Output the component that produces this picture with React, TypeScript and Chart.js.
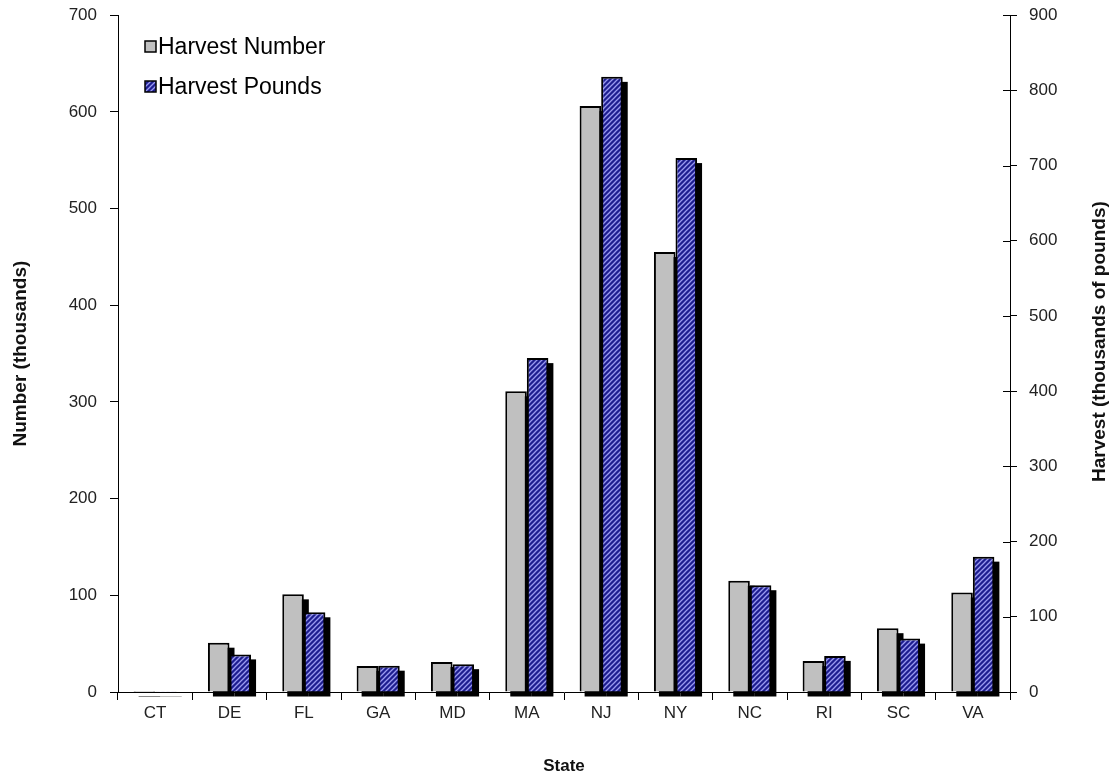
import React, { useEffect, useRef } from "react";
import { Chart, registerables } from "chart.js";

Chart.register(...registerables);

const states = ["CT", "DE", "FL", "GA", "MD", "MA", "NJ", "NY", "NC", "RI", "SC", "VA"];
const harvestNumber = [1, 51, 101, 27, 31, 311, 606, 455, 115, 32, 66, 103];
const harvestPounds = [1, 50, 106, 35, 37, 444, 818, 710, 142, 48, 71, 180];
const leftTicks = [0, 100, 200, 300, 400, 500, 600, 700];
const rightTicks = [0, 100, 200, 300, 400, 500, 600, 700, 800, 900];

const FONT = "'Liberation Sans', Arial, sans-serif";
const SHIFT = 8; // canvas is placed 8px above the page top

function makeHatch(): CanvasPattern | string {
  const c = document.createElement("canvas");
  c.width = 5;
  c.height = 5;
  const g = c.getContext("2d");
  if (!g) return "#22229a";
  g.fillStyle = "#1e1e90";
  g.fillRect(0, 0, 5, 5);
  g.strokeStyle = "#9a9af0";
  g.lineWidth = 1.3;
  g.beginPath();
  g.moveTo(-1, 6);
  g.lineTo(6, -1);
  g.moveTo(-1, 1);
  g.lineTo(1, -1);
  g.moveTo(4, 6);
  g.lineTo(6, 4);
  g.stroke();
  const p = g.createPattern(c, "repeat");
  return p || "#22229a";
}

const shadowPlugin = {
  id: "barShadow",
  beforeDatasetsDraw(chart: any) {
    const ctx = chart.ctx;
    ctx.save();
    ctx.fillStyle = "#000";
    chart.data.datasets.forEach((_: any, i: number) => {
      const meta = chart.getDatasetMeta(i);
      meta.data.forEach((el: any) => {
        const { x, y, base, width } = el.getProps(["x", "y", "base", "width"], true);
        const h = base - y;
        ctx.fillRect(x - width / 2 + 5, y + 5, width, h);
      });
    });
    ctx.restore();
  },
};

const decoPlugin = {
  id: "deco",
  afterDraw(chart: any) {
    const ctx = chart.ctx;
    const area = chart.chartArea;
    ctx.save();
    // inner halves of right-axis ticks
    const y1 = chart.scales.y1;
    ctx.strokeStyle = "#000";
    ctx.lineWidth = 1;
    y1.ticks.forEach((t: any) => {
      const py = Math.round(y1.getPixelForValue(t.value)) + 0.5;
      ctx.beginPath();
      ctx.moveTo(area.right - 7, py);
      ctx.lineTo(area.right, py);
      ctx.stroke();
    });
    // axis titles
    ctx.fillStyle = "#111";
    ctx.font = `bold 19px ${FONT}`;
    ctx.textAlign = "center";
    ctx.textBaseline = "middle";
    const cy = (area.top + area.bottom) / 2;
    ctx.save();
    ctx.translate(21, cy);
    ctx.rotate(-Math.PI / 2);
    ctx.fillText("Number (thousands)", 0, 0);
    ctx.restore();
    ctx.save();
    ctx.translate(1100, cy - 12);
    ctx.rotate(-Math.PI / 2);
    ctx.fillText("Harvest (thousands of pounds)", 0, 0);
    ctx.restore();
    ctx.font = `bold 17px ${FONT}`;
    ctx.fillText("State", (area.left + area.right) / 2, 766 + SHIFT);
    // legend
    const items = [
      { label: "Harvest Number", fill: chart.data.datasets[0].backgroundColor, y: 47 + SHIFT },
      { label: "Harvest Pounds", fill: chart.data.datasets[1].backgroundColor, y: 87 + SHIFT },
    ];
    ctx.font = `23px ${FONT}`;
    ctx.textAlign = "left";
    items.forEach((it) => {
      ctx.fillStyle = it.fill;
      ctx.fillRect(145, it.y - 6, 11, 11);
      ctx.strokeStyle = "#000";
      ctx.lineWidth = 1.5;
      ctx.strokeRect(145, it.y - 6, 11, 11);
      ctx.fillStyle = "#000";
      ctx.fillText(it.label, 158, it.y + 1);
    });
    ctx.restore();
  },
};

export default function App() {
  const ref = useRef<HTMLCanvasElement | null>(null);
  useEffect(() => {
    if (!ref.current) return;
    const hatch = makeHatch();
    const chart = new Chart(ref.current, {
      type: "bar",
      data: {
        labels: states,
        datasets: [
          {
            label: "Harvest Number",
            data: harvestNumber,
            backgroundColor: "#c0c0c0",
            borderColor: "#000",
            borderWidth: 2,
            yAxisID: "y",
            categoryPercentage: 0.58,
            barPercentage: 1,
          },
          {
            label: "Harvest Pounds",
            data: harvestPounds,
            backgroundColor: hatch as any,
            borderColor: "#000",
            borderWidth: 2,
            yAxisID: "y1",
            categoryPercentage: 0.58,
            barPercentage: 1,
          },
        ],
      },
      options: {
        animation: false,
        responsive: false,
        maintainAspectRatio: false,
        layout: { padding: { top: 7, left: 0, right: 0, bottom: 0 } },
        plugins: { legend: { display: false }, tooltip: { enabled: false } },
        scales: {
          x: {
            grid: { display: true, drawOnChartArea: false, drawTicks: true, tickLength: 8, color: "#000", offset: true },
            border: { display: true, color: "#000", width: 1 },
            ticks: { color: "#222", font: { family: FONT, size: 17 }, padding: 3 },
            afterFit: (s: any) => { s.height = 86; },
          },
          y: {
            position: "left",
            min: 0,
            max: 700,
            afterBuildTicks: (s: any) => { s.ticks = leftTicks.map((v) => ({ value: v })); },
            grid: { display: true, drawOnChartArea: false, drawTicks: true, tickLength: 8, color: "#000" },
            border: { display: true, color: "#000", width: 1 },
            ticks: { color: "#222", font: { family: FONT, size: 17 }, padding: 13 },
            afterFit: (s: any) => { s.width = 118; },
          },
          y1: {
            position: "right",
            min: 0,
            max: 900,
            afterBuildTicks: (s: any) => { s.ticks = rightTicks.map((v) => ({ value: v })); },
            grid: { display: true, drawOnChartArea: false, drawTicks: true, tickLength: 7, color: "#000" },
            border: { display: true, color: "#000", width: 1 },
            ticks: { color: "#222", font: { family: FONT, size: 17 }, padding: 12 },
            afterFit: (s: any) => { s.width = 107; },
          },
        },
      },
      plugins: [shadowPlugin, decoPlugin],
    });
    return () => chart.destroy();
  }, []);
  return (
    <div style={{ position: "fixed", left: 0, top: 0, width: 1117, height: 778, background: "#fff", overflow: "hidden" }}>
      <canvas
        ref={ref}
        width={1117}
        height={778 + SHIFT}
        style={{ position: "absolute", left: 0, top: -SHIFT, width: 1117, height: 778 + SHIFT, display: "block" }}
      />
    </div>
  );
}
